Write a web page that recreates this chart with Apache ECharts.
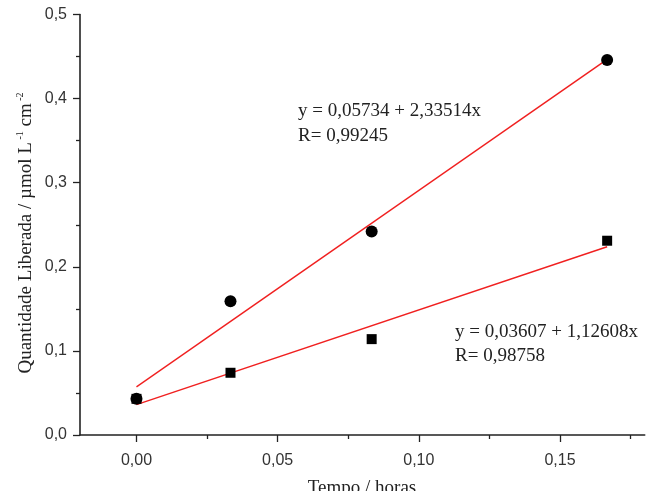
<!DOCTYPE html>
<html><head><meta charset="utf-8">
<script src="https://cdn.jsdelivr.net/npm/echarts@6/dist/echarts.min.js"></script>
<style>html,body{margin:0;padding:0;background:#fff}#c{width:648px;height:491px}</style>
</head><body><div id="c"></div>
<script>
// Data
const circleX = [0, 0.0333, 0.0833, 0.1667];
const circleY = [0.043, 0.159, 0.242, 0.446];
const squareX = [0, 0.0333, 0.0833, 0.1667];
const squareY = [0.043, 0.074, 0.114, 0.231];
// Fit-line endpoints
const fit1X = [0, 0.1667];
const fit1Y = [0.0573, 0.4466];
const fit2X = [0, 0.1667];
const fit2Y = [0.0361, 0.2238];
const xMajorTicks = [0, 0.05, 0.10, 0.15];
const xMinorTicks = [0.025, 0.075, 0.125, 0.175];
const eq1 = ['y = 0,05734 + 2,33514x', 'R= 0,99245'];
const eq2 = ['y = 0,03607 + 1,12608x', 'R= 0,98758'];

const pair = (xs, ys) => xs.map((x, i) => [x, ys[i]]);
const fmtX = v => v.toFixed(2).replace('.', ',');
const fmtY = v => v.toFixed(1).replace('.', ',');
const axisCol = '#222';
const serif = '"Liberation Serif", "Times New Roman", serif';
const sans = '"Liberation Sans", Arial, sans-serif';

const chart = echarts.init(document.getElementById('c'));
chart.setOption({
  animation: false,
  grid: {left: 80, top: 14.5, right: 3.3, bottom: 56},
  xAxis: [{
    type: 'value', min: -0.02, max: 0.18,
    splitLine: {show: false},
    axisLine: {show: true, onZero: false, lineStyle: {color: axisCol, width: 1.6}},
    axisTick: {show: true, customValues: xMajorTicks, length: 7, lineStyle: {color: axisCol, width: 1.3}},
    axisLabel: {customValues: xMajorTicks, formatter: fmtX, margin: 18, fontFamily: sans, fontSize: 16, color: '#333'}
  }, {
    type: 'value', min: -0.02, max: 0.18, position: 'bottom',
    splitLine: {show: false},
    axisLine: {show: false},
    axisTick: {show: true, customValues: xMinorTicks, length: 4, lineStyle: {color: axisCol, width: 1.3}},
    axisLabel: {show: false}
  }],
  yAxis: {
    type: 'value', min: 0, max: 0.5, interval: 0.1,
    splitLine: {show: false},
    axisLine: {show: true, onZero: false, lineStyle: {color: axisCol, width: 1.6}},
    axisTick: {show: true, length: 7, lineStyle: {color: axisCol, width: 1.3}},
    minorTick: {show: true, splitNumber: 2, length: 4, lineStyle: {color: axisCol, width: 1.3}},
    axisLabel: {formatter: fmtY, margin: 13, fontFamily: sans, fontSize: 16, color: '#333'}
  },
  series: [
    {type: 'line', data: pair(fit1X, fit1Y), showSymbol: false, symbol: 'none', lineStyle: {color: '#f02020', width: 1.4}, z: 2},
    {type: 'line', data: pair(fit2X, fit2Y), showSymbol: false, symbol: 'none', lineStyle: {color: '#f02020', width: 1.4}, z: 2},
    {type: 'scatter', data: pair(squareX, squareY), symbol: 'rect', symbolSize: 10, itemStyle: {color: '#000', opacity: 1}, z: 3},
    {type: 'scatter', data: pair(circleX, circleY), symbol: 'circle', symbolSize: 12, itemStyle: {color: '#000', opacity: 1}, z: 4}
  ],
  graphic: [
    {type: 'text', x: 298, y: 111, style: {text: eq1[0], font: '19px ' + serif, fill: '#222', verticalAlign: 'middle'}},
    {type: 'text', x: 298, y: 136, style: {text: eq1[1], font: '19px ' + serif, fill: '#222', verticalAlign: 'middle'}},
    {type: 'text', x: 455, y: 332, style: {text: eq2[0], font: '19px ' + serif, fill: '#222', verticalAlign: 'middle'}},
    {type: 'text', x: 455, y: 356, style: {text: eq2[1], font: '19px ' + serif, fill: '#222', verticalAlign: 'middle'}},
    {type: 'text', x: 362, y: 488, style: {text: 'Tempo / horas', font: '19px ' + serif, fill: '#222', align: 'center', verticalAlign: 'middle'}},
    {type: 'text', x: 26, y: 233, rotation: Math.PI / 2,
      style: {
        text: '{a|Quantidade Liberada / µmol L}{s| -1}{a| cm}{s| -2}',
        align: 'center', verticalAlign: 'middle', fill: '#222',
        rich: {
          a: {fontFamily: serif, fontSize: 19, fill: '#222', lineHeight: 22},
          s: {fontFamily: serif, fontSize: 10, fill: '#222', verticalAlign: 'top', lineHeight: 22, padding: [0, 0, 8, 0]}
        }
      }}
  ]
});
</script></body></html>
